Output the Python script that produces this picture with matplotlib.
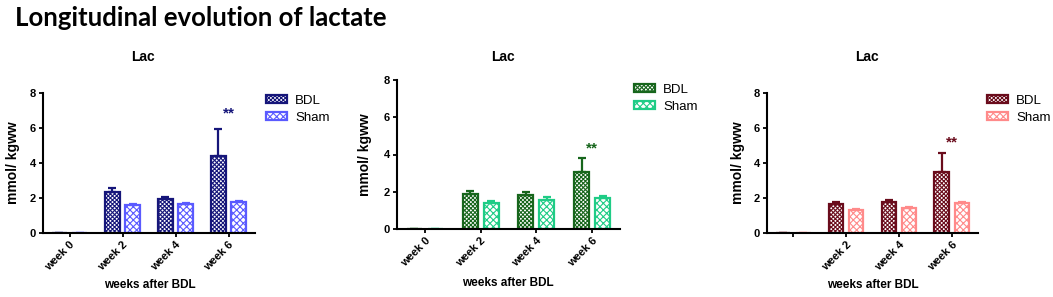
import matplotlib
matplotlib.use('Agg')
import matplotlib.pyplot as plt
import numpy as np
from matplotlib.patches import Patch

plt.rcParams['font.family'] = ['Liberation Sans', 'DejaVu Sans']
plt.rcParams['hatch.linewidth'] = 0.8

weeks = ['week 0', 'week 2', 'week 4', 'week 6']

# panel 1
bdl1 = [0.0, 2.35, 1.95, 4.4]
bdl1_err = [0.0, 0.25, 0.1, 1.55]
sham1 = [0.0, 1.58, 1.65, 1.8]
sham1_err = [0.0, 0.07, 0.07, 0.05]

# panel 2
bdl2 = [0.0, 1.9, 1.8, 3.05]
bdl2_err = [0.0, 0.15, 0.2, 0.75]
sham2 = [0.0, 1.4, 1.55, 1.65]
sham2_err = [0.0, 0.1, 0.15, 0.1]

# panel 3
bdl3 = [0.0, 1.65, 1.8, 3.5]
bdl3_err = [0.0, 0.1, 0.07, 1.05]
sham3 = [0.0, 1.3, 1.45, 1.7]
sham3_err = [0.0, 0.08, 0.05, 0.08]

star_y = [6.85, 4.35, 5.2]

panels = [
    dict(bdl=bdl1, bdle=bdl1_err, sham=sham1, shame=sham1_err,
         cb='#16167a', cs='#5a5aff', rect=[43, 93, 255, 233],
         title=(143, 57), ylab=(13, 163), xlab=(150, 285), leg=(266, 95),
         ticklabels=weeks),
    dict(bdl=bdl2, bdle=bdl2_err, sham=sham2, shame=sham2_err,
         cb='#17661c', cs='#1fcc86', rect=[397, 80, 620, 229],
         title=(503, 57), ylab=(365, 155), xlab=(508, 283), leg=(634, 84),
         ticklabels=weeks),
    dict(bdl=bdl3, bdle=bdl3_err, sham=sham3, shame=sham3_err,
         cb='#6a0c1c', cs='#ff8a8a', rect=[767, 93, 978, 233],
         title=(867, 57), ylab=(738, 163), xlab=(873, 285), leg=(987, 95),
         ticklabels=[''] + weeks[1:]),
]

W, H = 1053, 297
fig = plt.figure(figsize=(W / 100, H / 100), dpi=100)

fig.text(15 / W, 1 - 18 / H, 'Longitudinal evolution of lactate', family='Lato',
         fontweight='bold', fontsize=18.5, va='center', ha='left')

x = np.arange(len(weeks))
bw = 0.27
off = 0.19
hb = 'xxxxxxxx'
hs = 'xxxxx'

for i, p in enumerate(panels):
    x0, y0, x1, y1 = p['rect']
    ax = fig.add_axes([x0 / W, 1 - y1 / H, (x1 - x0) / W, (y1 - y0) / H])
    ax.bar(x - off, p['bdl'], bw, facecolor='white', edgecolor=p['cb'],
           hatch=hb, linewidth=1.6, zorder=2)
    ax.errorbar(x - off, p['bdl'], yerr=[np.zeros(4), p['bdle']], fmt='none',
                ecolor=p['cb'], elinewidth=1.6, capsize=3, capthick=1.6, zorder=3)
    ax.bar(x + off, p['sham'], bw, facecolor='white', edgecolor=p['cs'],
           hatch=hs, linewidth=1.6, zorder=2)
    ax.errorbar(x + off, p['sham'], yerr=[np.zeros(4), p['shame']], fmt='none',
                ecolor=p['cs'], elinewidth=1.6, capsize=3, capthick=1.6, zorder=3)
    ax.text(x[3], star_y[i], '**', color=p['cb'], ha='center', va='center',
            fontsize=11, fontweight='bold')

    ax.set_xlim(-0.5, 3.5)
    ax.set_ylim(0, 8)
    ax.set_yticks([0, 2, 4, 6, 8])
    ax.set_xticks(x)
    ax.set_xticklabels(p['ticklabels'], rotation=45, ha='right',
                       rotation_mode='anchor', fontsize=8, fontweight='bold')
    for lab in ax.get_yticklabels():
        lab.set_fontweight('bold')
        lab.set_fontsize(8)
    for s in ['top', 'right']:
        ax.spines[s].set_visible(False)
    for s in ['left', 'bottom']:
        ax.spines[s].set_linewidth(1.5)
        ax.spines[s].set_zorder(5)
    ax.tick_params(axis='both', width=1.3, length=3, pad=2)

    fig.text(p['title'][0] / W, 1 - p['title'][1] / H, 'Lac', ha='center',
             va='center', fontsize=10, fontweight='bold')
    fig.text(p['ylab'][0] / W, 1 - p['ylab'][1] / H, 'mmol/ kgww', ha='center',
             va='center', rotation=90, fontsize=10, fontweight='bold')
    fig.text(p['xlab'][0] / W, 1 - p['xlab'][1] / H, 'weeks after BDL',
             ha='center', va='center', fontsize=8.5, fontweight='bold')

    handles = [Patch(facecolor='white', edgecolor=p['cb'], hatch=hb, linewidth=1.6),
               Patch(facecolor='white', edgecolor=p['cs'], hatch=hs, linewidth=1.6)]
    fig.legend(handles, ['BDL', 'Sham'], loc='upper left',
               bbox_to_anchor=(p['leg'][0] / W, 1 - p['leg'][1] / H),
               frameon=False, fontsize=9.5, handlelength=1.6, handleheight=0.55,
               handletextpad=0.6, labelspacing=0.35, borderpad=0, borderaxespad=0)

fig.savefig('out.png', dpi=100)
